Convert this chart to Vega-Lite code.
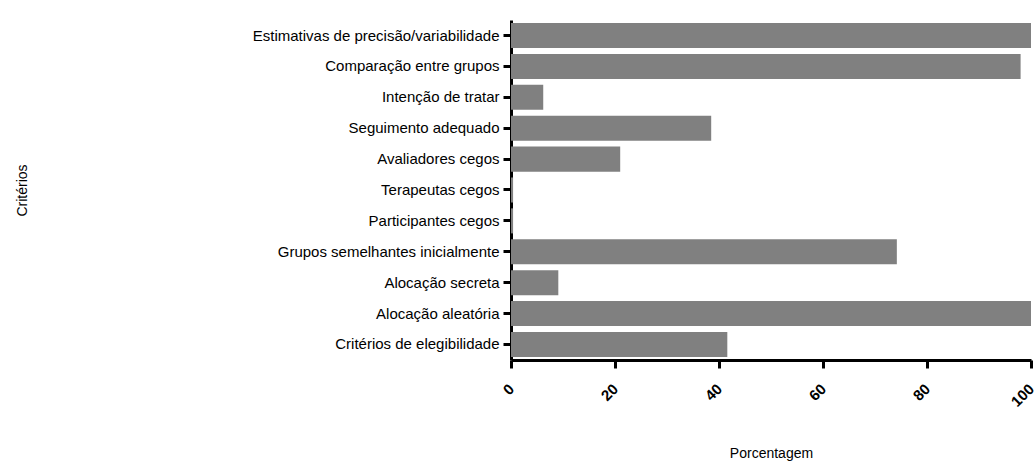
{
  "$schema": "https://vega.github.io/schema/vega-lite/v6.json",
  "autosize": {"type": "none"},
  "padding": {"left": 511, "top": 20, "right": 3, "bottom": 102},
  "width": 520,
  "height": 340,
  "background": "white",
  "config": {
    "view": {"stroke": null},
    "font": "Liberation Sans",
    "axis": {"grid": false, "domainColor": "black", "tickColor": "black", "labelColor": "black", "titleColor": "black"}
  },
  "data": {
    "values": [
      {"criterio": "Estimativas de precisão/variabilidade", "pct": 100},
      {"criterio": "Comparação entre grupos", "pct": 98},
      {"criterio": "Intenção de tratar", "pct": 6.2},
      {"criterio": "Seguimento adequado", "pct": 38.5},
      {"criterio": "Avaliadores cegos", "pct": 21},
      {"criterio": "Terapeutas cegos", "pct": 0.4},
      {"criterio": "Participantes cegos", "pct": 0.4},
      {"criterio": "Grupos semelhantes inicialmente", "pct": 74.2},
      {"criterio": "Alocação secreta", "pct": 9.1},
      {"criterio": "Alocação aleatória", "pct": 100},
      {"criterio": "Critérios de elegibilidade", "pct": 41.6}
    ]
  },
  "mark": {"type": "bar", "color": "#808080"},
  "encoding": {
    "y": {
      "field": "criterio",
      "type": "nominal",
      "sort": null,
      "scale": {"paddingInner": 0.19, "paddingOuter": 0.1},
      "axis": {
        "title": "Critérios",
        "titleFont": "Liberation Sans",
        "titleFontWeight": "normal",
        "titleFontSize": 14,
        "titleX": -489,
        "titleY": 170,
        "titleAngle": -90,
        "titleAlign": "center",
        "titleBaseline": "middle",
        "labelFontSize": 15,
        "labelPadding": 4,
        "labelLimit": 500,
        "domainWidth": 3,
        "tickWidth": 3,
        "tickSize": 8
      }
    },
    "x": {
      "field": "pct",
      "type": "quantitative",
      "scale": {"domain": [0, 100], "nice": false},
      "axis": {
        "title": "Porcentagem",
        "values": [0, 20, 40, 60, 80, 100],
        "titleFontWeight": "normal",
        "titleFontSize": 14,
        "titleY": 93,
        "titleBaseline": "middle",
        "labelAngle": -45,
        "labelAlign": "right",
        "labelBaseline": "middle",
        "labelFontWeight": "bold",
        "labelFontSize": 15,
        "labelPadding": 18,
        "labelFlush": false,
        "labelOverlap": false,
        "domainWidth": 3,
        "tickWidth": 3,
        "tickSize": 8
      }
    }
  }
}
